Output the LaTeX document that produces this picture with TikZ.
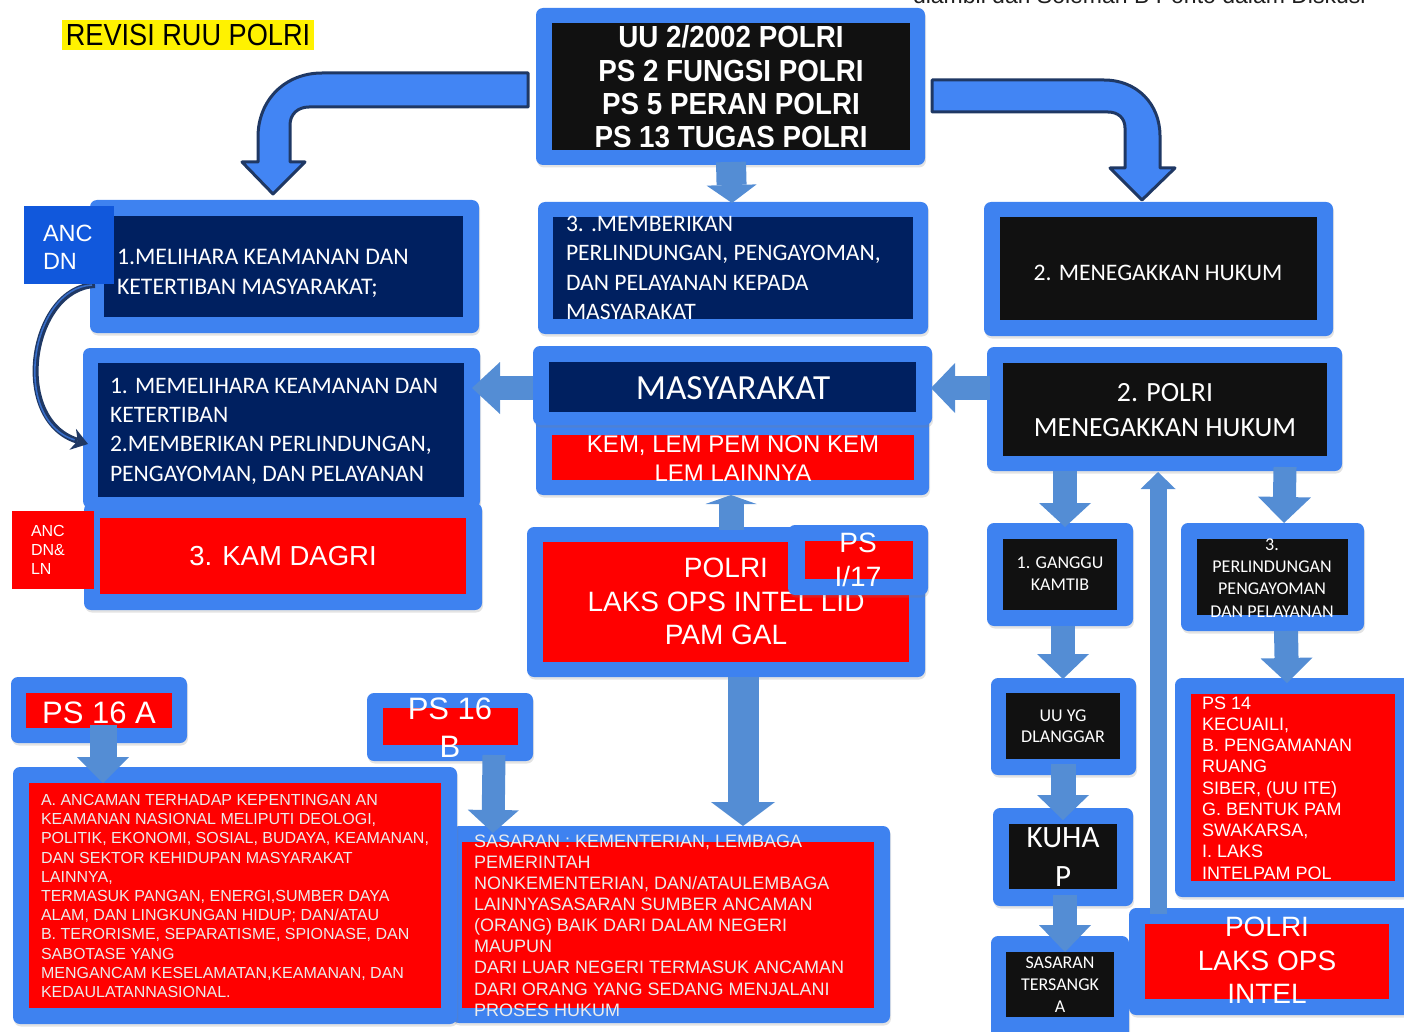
\documentclass[tikz,border=0pt]{standalone}
\usepackage{fontspec}
\setmainfont{Liberation Sans}
\newfontfamily\calfont{Carlito}
\newfontfamily\narrowfont[FakeStretch=0.89]{Liberation Sans}
\newfontfamily\narrowbold[FakeStretch=0.91]{Liberation Sans}
\usetikzlibrary{arrows.meta,shadows}
\definecolor{boxblue}{RGB}{62,130,240}
\definecolor{ancblue}{RGB}{17,88,220}
\definecolor{navyfill}{RGB}{0,32,96}
\definecolor{blackfill}{RGB}{17,17,17}
\definecolor{redfill}{RGB}{255,0,0}
\definecolor{arrowblue}{RGB}{84,141,212}
\definecolor{bentfill}{RGB}{66,133,244}
\definecolor{bentline}{RGB}{31,56,100}
\definecolor{lighttext}{RGB}{236,236,236}
\newcommand\fs[2]{\fontsize{#1}{#2}\selectfont}
% box node: style, name, x1, y1, x2, y2 (pixel coords, y downwards)
\newcommand\bx[6]{%
  \pgfmathsetmacro\bxw{#5-#3}\pgfmathsetmacro\bxh{#6-#4}%
  \node[#1, anchor=north west, minimum width=\bxw pt, minimum height=\bxh pt] (#2) at (#3,#4) {};}
% block arrow: from, to, band width, head width, head length
\newcommand\barrow[5]{%
  \draw[arrowblue, line width=#3pt, -{Triangle[width=#4pt,length=#5pt,line width=0pt]}] (#1) -- (#2);}
\tikzset{
  every node/.style={inner sep=0pt, outer sep=0pt},
  outer/.style={fill=boxblue, rounded corners=7pt, drop shadow={opacity=0.22, shadow xshift=1pt, shadow yshift=-2.5pt}},
  innernavy/.style={fill=navyfill},
  innerblack/.style={fill=blackfill},
  innerred/.style={fill=redfill},
  ancbox/.style={fill=ancblue},
  txt/.style={text=white},
  ltxt/.style={text=lighttext},
  bent/.style={draw=bentline, fill=bentfill, line width=3pt, line join=round},
}
\begin{document}
\begin{tikzpicture}[x=1pt,y=-1pt]
\useasboundingbox (0,0) rectangle (1404,1032);
\clip (0,0) rectangle (1404,1032);

% title and source
\node[fill=yellow, anchor=north west, minimum width=252pt, minimum height=30pt] (titlebg) at (62,20) {};
\node[font=\narrowfont\fs{30.5}{30}] (title) at (188,35.5) {REVISI RUU POLRI};
\node[anchor=base west, font=\fs{23}{23}, text={rgb,255:red,30;green,30;blue,30}] (src) at (913,4) {diambil dari Soleman B Ponto dalam Diskusi};

% top box
\bx{outer}{top}{536}{8}{925}{165}
\bx{innerblack}{topi}{552}{23}{910}{150}
\node[txt, align=center, font=\narrowbold\bfseries\fs{30.5}{33.3}] (toptxt) at (731,87) {UU 2/2002 POLRI\\PS 2 FUNGSI POLRI\\PS 5 PERAN POLRI\\PS 13 TUGAS POLRI};

% bent arrows
\draw[bent] (528,73) -- (322,73) .. controls (285,73) and (258,100) .. (258,137) -- (258,162) -- (242,162) -- (273,194) -- (305,162) -- (290,162) -- (290,125) .. controls (290,114) and (298,107) .. (309,107) -- (528,107) -- cycle;
\draw[bent] (932,80) -- (1104,80) .. controls (1137,80) and (1160,104) .. (1160,136) -- (1160,168) -- (1175,168) -- (1142,200) -- (1110,168) -- (1125,168) -- (1125,128) .. controls (1125,118) and (1118,112) .. (1108,112) -- (932,112) -- cycle;

% row 2
\bx{outer}{r2l}{90}{200}{479}{333}
\bx{innernavy}{r2li}{104}{216}{463}{317}
\node[txt, anchor=west, align=left, font=\calfont\fs{23.8}{30}] (r2lt) at (117,273) {1.MELIHARA KEAMANAN DAN\\KETERTIBAN MASYARAKAT;};
\bx{outer}{r2m}{538}{202}{928}{334}
\bx{innernavy}{r2mi}{553}{217}{913}{319}
\node[txt, anchor=west, align=left, font=\calfont\fs{23.6}{29.3}] (r2mt) at (566,268) {3. .MEMBERIKAN\\PERLINDUNGAN, PENGAYOMAN,\\DAN PELAYANAN KEPADA\\MASYARAKAT};
\bx{outer}{r2r}{984}{202}{1333}{336}
\bx{innerblack}{r2ri}{1000}{217}{1317}{320}
\node[txt, font=\calfont\fs{23.7}{28}] (r2rt) at (1158,273) {2. MENEGAKKAN HUKUM};

% row 3 left
\bx{outer}{r3l}{83}{348}{480}{508}
\bx{innernavy}{r3li}{98}{363}{464}{497}
\node[txt, anchor=west, align=left, font=\calfont\fs{23.6}{29.3}] (r3lt) at (110,431) {1. MEMELIHARA KEAMANAN DAN\\KETERTIBAN\\2.MEMBERIKAN PERLINDUNGAN,\\PENGAYOMAN, DAN PELAYANAN};
\bx{outer}{kam}{84}{503}{482}{610}
\bx{innerred}{kami}{100}{518}{466}{594}
\node[txt, font=\fs{27.5}{30}] (kamt) at (283,556) {3. KAM DAGRI};

% curved arrow ANC DN -> row 3 left
\draw[bentline, line width=6pt, -{Stealth[length=16pt,width=22pt,line width=0pt]}] (95,285) .. controls (30,288) and (10,420) .. (88,444);
\draw[bentfill!70!bentline, line width=1.6pt, shorten >=14pt] (92,285) .. controls (30,288) and (10,420) .. (88,444);

\bx{ancbox}{anc}{24}{206}{114}{284}
\node[txt, anchor=west, align=left, font=\fs{23.5}{28}] (anct) at (43,247) {ANC\\DN};
\bx{innerred}{anc2}{12}{511}{94}{589}
\node[txt, anchor=west, align=left, font=\fs{16}{19}] (anc2t) at (31,550) {ANC\\DN\&\\LN};

% middle column
\bx{outer}{kem}{536}{405}{929}{495}
\bx{innerred}{kemi}{552}{435}{914}{480}
\node[txt, align=center, font=\fs{24}{29.5}] (kemt) at (733,458.5) {KEM, LEM PEM NON KEM\\LEM LAINNYA};
\bx{outer}{mas}{533}{346}{932}{425}
\bx{innernavy}{masi}{549}{362}{916}{412}
\node[txt, font=\calfont\fs{35.3}{36}] (mast) at (733,388) {MASYARAKAT};

% row 3 right
\bx{outer}{pm}{987}{347}{1342}{471}
\bx{innerblack}{pmi}{1003}{363}{1327}{456}
\node[txt, align=center, font=\calfont\fs{27.8}{35}] (pmt) at (1165,410.5) {2. POLRI\\MENEGAKKAN HUKUM};

% polri lid
\bx{outer}{lid}{527}{527}{925}{677}
\bx{innerred}{lidi}{543}{542}{909}{662}
\node[txt, align=center, font=\fs{28}{33.5}] (lidt) at (726,601.5) {POLRI\\LAKS OPS INTEL LID\\PAM GAL};
\bx{outer}{ps17}{788}{525}{928}{595}
\bx{innerred}{ps17i}{805}{541}{913}{579}
\node[txt, align=center, font=\fs{28}{34}] (ps17t) at (858,560) {PS\\I/17};

% right column
\bx{outer}{gg}{987}{523}{1133}{626}
\bx{innerblack}{ggi}{1003}{539}{1117}{610}
\node[txt, align=center, font=\calfont\fs{18}{22}] (ggt) at (1060,574) {1. GANGGU\\KAMTIB};
\bx{outer}{perl}{1181}{523}{1364}{631}
\bx{innerblack}{perli}{1197}{539}{1348}{615}
\node[txt, align=center, font=\calfont\fs{18}{22.3}] (perlt) at (1272,578) {3.\\PERLINDUNGAN\\PENGAYOMAN\\DAN PELAYANAN};
\bx{outer}{uu}{991}{678}{1136}{775}
\bx{innerblack}{uui}{1006}{693}{1120}{759}
\node[txt, align=center, font=\calfont\fs{18}{21}] (uut) at (1063,726.5) {UU YG\\DLANGGAR};
\bx{outer}{kuhap}{993}{808}{1133}{906}
\bx{innerblack}{kuhapi}{1009}{824}{1117}{889}
\node[txt, align=center, font=\calfont\fs{31}{39}] (kuhapt) at (1063,857.5) {KUHA\\P};
\bx{outer}{st}{991}{936}{1129}{1045}
\bx{innerblack}{sti}{1006}{952}{1114}{1017}
\node[txt, align=center, font=\calfont\fs{18}{22}] (stt) at (1060,985) {SASARAN\\TERSANGK\\A};
\bx{outer}{ps14}{1175}{678}{1420}{897}
\bx{innerred}{ps14i}{1191}{694}{1395}{881}
\node[txt, anchor=west, align=left, font=\fs{18}{21.25}] (ps14t) at (1202,788) {PS 14\\KECUAILI,\\B. PENGAMANAN\\RUANG\\SIBER, (UU ITE)\\G. BENTUK PAM\\SWAKARSA,\\I. LAKS\\INTELPAM POL};
\bx{outer}{loi}{1129}{908}{1420}{1015}
\bx{innerred}{loii}{1145}{924}{1389}{999}
\node[txt, align=center, font=\fs{28}{33.5}] (loit) at (1267,960.5) {POLRI\\LAKS OPS\\INTEL};

% bottom left
\bx{outer}{p16a}{11}{677}{187}{743}
\bx{innerred}{p16ai}{26}{693}{172}{728}
\node[txt, font=\fs{31}{31}] (p16at) at (99,713) {PS 16 A};
\bx{outer}{p16b}{367}{693}{533}{761}
\bx{innerred}{p16bi}{383}{708}{518}{745}
\node[txt, align=center, font=\fs{31}{38}] (p16bt) at (450,728) {PS 16\\B};
\bx{outer}{sas}{452}{826}{890}{1023}
\bx{innerred}{sasi}{462}{842}{874}{1008}
\node[ltxt, anchor=west, align=left, font=\fs{18}{21.1}] (sast) at (474,925.5) {SASARAN : KEMENTERIAN, LEMBAGA\\PEMERINTAH\\NONKEMENTERIAN, DAN/ATAULEMBAGA\\LAINNYASASARAN SUMBER ANCAMAN\\(ORANG) BAIK DARI DALAM NEGERI\\MAUPUN\\DARI LUAR NEGERI TERMASUK ANCAMAN\\DARI ORANG YANG SEDANG MENJALANI\\PROSES HUKUM};
\bx{outer}{anc16}{13}{767}{457}{1024}
\bx{innerred}{anc16i}{29}{783}{441}{1008}
\node[ltxt, anchor=west, align=left, font=\fs{16}{19.2}] (anc16t) at (41,896) {A. ANCAMAN TERHADAP KEPENTINGAN AN\\KEAMANAN NASIONAL MELIPUTI DEOLOGI,\\POLITIK, EKONOMI, SOSIAL, BUDAYA, KEAMANAN,\\DAN SEKTOR KEHIDUPAN MASYARAKAT\\LAINNYA,\\TERMASUK PANGAN, ENERGI,SUMBER DAYA\\ALAM, DAN LINGKUNGAN HIDUP; DAN/ATAU\\B. TERORISME, SEPARATISME, SPIONASE, DAN\\SABOTASE YANG\\MENGANCAM KESELAMATAN,KEAMANAN, DAN\\KEDAULATANNASIONAL.};

% block arrow connectors
\coordinate (a1s) at (731,162); \coordinate (a1e) at (732,203);
\coordinate (a2s) at (533,388); \coordinate (a2e) at (472,388);
\coordinate (a3s) at (990,388); \coordinate (a3e) at (931,388);
\coordinate (a4s) at (731,530); \coordinate (a4e) at (731,495);
\coordinate (a5s) at (743,677); \coordinate (a5e) at (743,826);
\coordinate (a6s) at (103,725); \coordinate (a6e) at (103,783);
\coordinate (a7s) at (494,755); \coordinate (a7e) at (493,833);
\coordinate (a8s) at (1065,471); \coordinate (a8e) at (1065,527);
\coordinate (a9s) at (1158,914); \coordinate (a9e) at (1158,472);
\coordinate (a10s) at (1285,467); \coordinate (a10e) at (1284,523);
\coordinate (a11s) at (1063,626); \coordinate (a11e) at (1063,679);
\coordinate (a12s) at (1063,764); \coordinate (a12e) at (1063,820);
\coordinate (a13s) at (1065,895); \coordinate (a13e) at (1065,952);
\coordinate (a14s) at (1286,631); \coordinate (a14e) at (1287,683);
\barrow{a1s}{a1e}{30}{50}{18}
\barrow{a2s}{a2e}{24}{52}{28}
\barrow{a3s}{a3e}{24}{50}{24}
\barrow{a4s}{a4e}{25}{51}{9}
\barrow{a5s}{a5e}{31}{64}{24}
\barrow{a6s}{a6e}{27}{52}{26}
\barrow{a7s}{a7e}{23}{51}{23}
\barrow{a8s}{a8e}{24}{52}{24}
\barrow{a9s}{a9e}{17}{35}{17}
\barrow{a10s}{a10e}{23}{53}{26}
\barrow{a11s}{a11e}{24}{52}{25}
\barrow{a12s}{a12e}{25}{52}{25}
\barrow{a13s}{a13e}{24}{52}{27}
\barrow{a14s}{a14e}{24}{52}{25}
\end{tikzpicture}
\end{document}
